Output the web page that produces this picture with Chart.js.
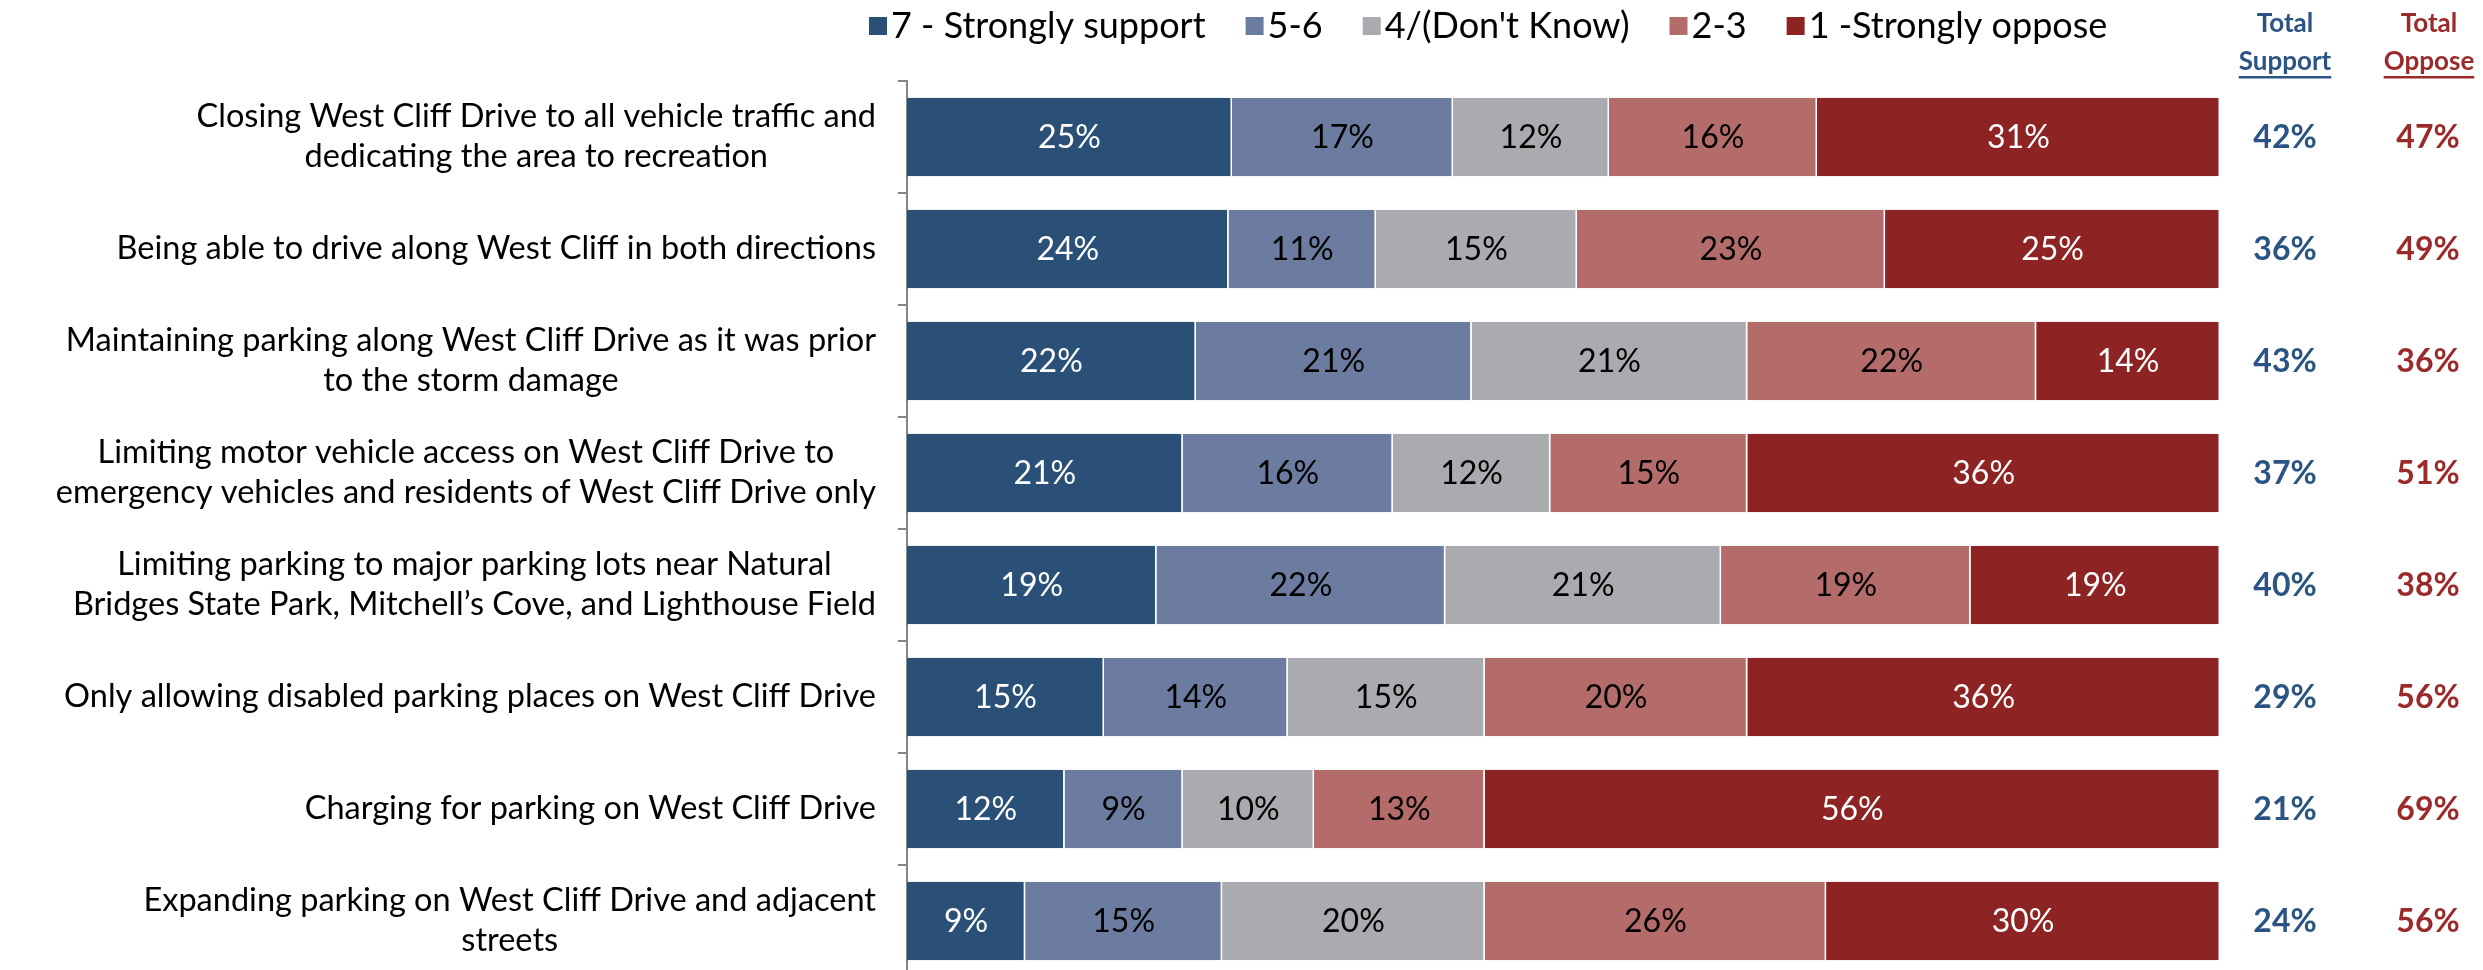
<!DOCTYPE html>
<html>
<head>
<meta charset="utf-8">
<script src="https://cdn.jsdelivr.net/npm/chart.js@4.4.1/dist/chart.umd.min.js"></script>
<style>
html,body{margin:0;padding:0;background:#fff;overflow:hidden}
#wrap{width:2483px;height:978px}
</style>
</head>
<body>
<div id="wrap"><canvas id="c" width="2483" height="978"></canvas></div>
<script>
// categories, top to bottom (each entry is the wrapped lines)
const categories = [
	['Closing West Cliff Drive to all vehicle traffic and','dedicating the area to recreation'],
	['Being able to drive along West Cliff in both directions'],
	['Maintaining parking along West Cliff Drive as it was prior','to the storm damage'],
	['Limiting motor vehicle access on West Cliff Drive to','emergency vehicles and residents of West Cliff Drive only'],
	['Limiting parking to major parking lots near Natural','Bridges State Park, Mitchell\u2019s Cove, and Lighthouse Field'],
	['Only allowing disabled parking places on West Cliff Drive'],
	['Charging for parking on West Cliff Drive'],
	['Expanding parking on West Cliff Drive and adjacent','streets']
];
const strongSupport = [25,24,22,21,19,15,12,9];
const support56     = [17,11,21,16,22,14,9,15];
const dontKnow      = [12,15,21,12,21,15,10,20];
const oppose23      = [16,23,22,15,19,20,13,26];
const strongOppose  = [31,25,14,36,19,36,56,30];
const totalSupport  = [42,36,43,37,40,29,21,24];
const totalOppose   = [47,49,36,51,38,56,69,56];

const seriesNames = ['7 - Strongly support','5-6',"4/(Don't Know)",'2-3','1 -Strongly oppose'];
const seriesValues = [strongSupport,support56,dontKnow,oppose23,strongOppose];
const seriesColours = ['#2A5078','#6C7BA0','#AAABAF','#B46C6A','#8E2323'];
const labelColours = ['#FFFFFF','#000000','#000000','#000000','#FFFFFF'];

const FONT = 'Lato';
const SUPPORT_COL = '#2B5384';
const OPPOSE_COL = '#9B2A2A';

// bars fill the full width: each row is shown as share of its own total
var rowSums = categories.map(function(c,i){
	var s = 0;
	seriesValues.forEach(function(v){ s += v[i]; });
	return s;
});

var datasets = seriesNames.map(function(name,s){
	return {
		label: name,
		raw: seriesValues[s],
		data: seriesValues[s].map(function(v,i){ return v/rowSums[i]*100; }),
		backgroundColor: seriesColours[s],
		borderColor: 'rgba(255,255,255,0.55)',
		borderWidth: {top:0,right:1.5,bottom:0,left:0},
		borderSkipped: false,
		barPercentage: 0.7,
		categoryPercentage: 1
	};
});

var textPlugin = {
	id: 'texts',
	afterDraw: function(chart){
		var ctx = chart.ctx, i, j, s;
		var y = chart.scales.y;
		ctx.save();
		ctx.textBaseline = 'middle';

		// segment labels
		ctx.font = '32px '+FONT;
		ctx.textAlign = 'center';
		chart.data.datasets.forEach(function(ds,s){
			var meta = chart.getDatasetMeta(s);
			meta.data.forEach(function(bar,i){
				ctx.fillStyle = labelColours[s];
				ctx.fillText(ds.raw[i]+'%', (bar.x+bar.base)/2, bar.y+1);
			});
		});

		// category labels: block right aligned, lines centred in block
		ctx.font = '32.5px '+FONT;
		var lh = 40, right = 876;
		for(i = 0; i < categories.length; i++){
			var lines = categories[i], maxW = 0, py = y.getPixelForValue(i);
			for(j = 0; j < lines.length; j++) maxW = Math.max(maxW, ctx.measureText(lines[j]).width);
			ctx.fillStyle = '#000';
			for(j = 0; j < lines.length; j++){
				ctx.fillText(lines[j], right-maxW/2, py - (lines.length-1)*lh/2 + j*lh);
			}
		}

		// totals columns
		ctx.font = 'bold 32px '+FONT;
		for(i = 0; i < categories.length; i++){
			var py2 = y.getPixelForValue(i);
			ctx.fillStyle = SUPPORT_COL;
			ctx.fillText(totalSupport[i]+'%', 2285, py2+1);
			ctx.fillStyle = OPPOSE_COL;
			ctx.fillText(totalOppose[i]+'%', 2428, py2+1);
		}

		// column headers
		ctx.font = 'bold 26px '+FONT;
		var heads = [[2285,SUPPORT_COL,'Support'],[2429,OPPOSE_COL,'Oppose']];
		heads.forEach(function(h){
			ctx.fillStyle = h[1];
			ctx.fillText('Total', h[0], 24);
			ctx.fillText(h[2], h[0], 62);
			var w = ctx.measureText(h[2]).width;
			ctx.fillRect(h[0]-w/2, 76, w, 2.5);
		});

		// legend
		ctx.font = '36px '+FONT;
		ctx.textAlign = 'left';
		var lx = 869, ly = 26;
		for(s = 0; s < seriesNames.length; s++){
			ctx.fillStyle = seriesColours[s];
			ctx.fillRect(lx, ly-9, 18, 18);
			ctx.fillStyle = '#000';
			ctx.fillText(seriesNames[s], lx+22, ly);
			lx += 22 + ctx.measureText(seriesNames[s]).width + 40;
		}
		ctx.restore();
	}
};

new Chart(document.getElementById('c'), {
	type: 'bar',
	data: { labels: categories, datasets: datasets },
	options: {
		indexAxis: 'y',
		responsive: false,
		animation: false,
		devicePixelRatio: 1,
		layout: { padding: { left: 0, top: 81, right: 263, bottom: 1 } },
		plugins: { legend: { display: false }, tooltip: { enabled: false } },
		scales: {
			x: { stacked: true, min: 0, max: 100, display: false },
			y: {
				stacked: true,
				afterFit: function(scale){ scale.width = 907; },
				ticks: { display: false },
				grid: { offset: true, drawOnChartArea: false, drawTicks: true, tickLength: 9, color: '#868686', lineWidth: 2 },
				border: { display: true, color: '#868686', width: 2 }
			}
		}
	},
	plugins: [textPlugin]
});
</script>
</body>
</html>
